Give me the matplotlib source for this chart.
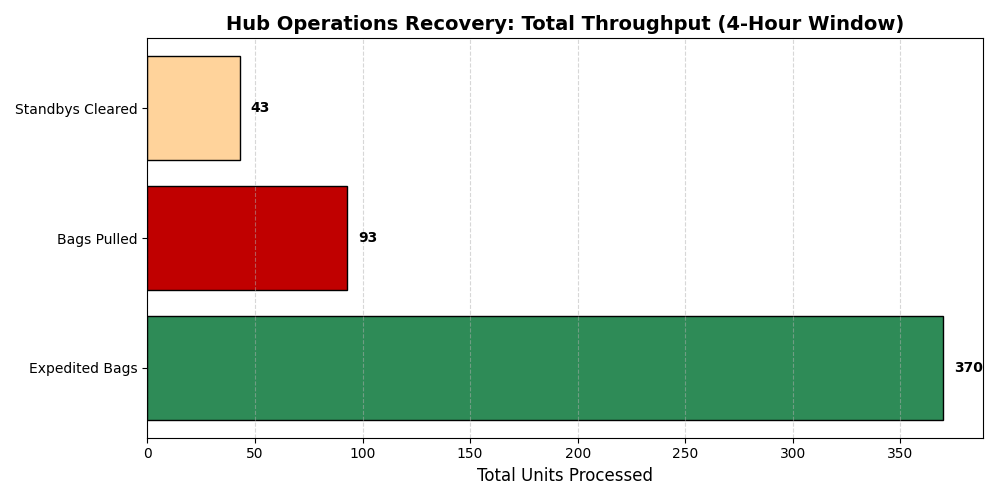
import matplotlib
matplotlib.use("Agg")
import matplotlib.pyplot as plt

categories = ["Expedited Bags", "Bags Pulled", "Standbys Cleared"]
values = [370, 93, 43]
colors = ["#2E8B57", "#C00000", "#FFD39B"]

fig, ax = plt.subplots(figsize=(10, 5), dpi=100)
bars = ax.barh(categories, values, color=colors, edgecolor="black", height=0.8)
for b, v in zip(bars, values):
    ax.text(v + 5, b.get_y() + b.get_height() / 2, str(v), va="center", ha="left",
            fontweight="bold", fontsize=10)
ax.set_xlim(0, max(values) * 1.05)
ax.set_xlabel("Total Units Processed", fontsize=12)
ax.set_title("Hub Operations Recovery: Total Throughput (4-Hour Window)", fontsize=14, fontweight="bold")
ax.grid(axis="x", linestyle="--", alpha=0.5)
fig.tight_layout()
fig.savefig("out.png")
